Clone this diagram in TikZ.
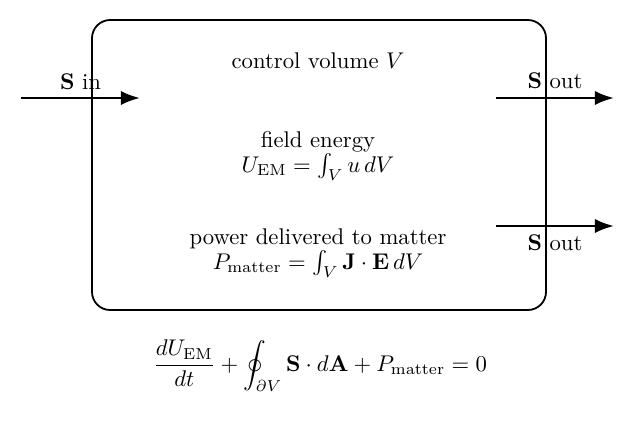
\documentclass[tikz,border=0pt]{standalone}
\usetikzlibrary{arrows.meta}
\begin{document}
\begin{tikzpicture}[x=0.4405pt,y=-0.4405pt,
  cvbox/.style={draw,thick,rounded corners=8pt},
  flux/.style={very thick,-{Latex}},
  lbl/.style={inner sep=0pt,align=center}]
\useasboundingbox (0,0) rectangle (639,425);
\draw[cvbox] (92,20) rectangle (546,310);
\node[lbl] (cv) at (318,61) {control volume $V$};
\node[lbl,anchor=base] (fe) at (318,172) {field energy\\[-1pt] $U_{\mathrm{EM}}=\int_V u\,dV$};
\node[lbl,anchor=base] (pd) at (318,269) {power delivered to matter\\[-1pt] $P_{\mathrm{matter}}=\int_V \mathbf{J}\cdot\mathbf{E}\,dV$};
\coordinate (a1) at (21,98); \coordinate (b1) at (140,98);
\coordinate (a2) at (496,98); \coordinate (b2) at (614,98);
\coordinate (a3) at (496,226); \coordinate (b3) at (614,226);
\draw[flux] (a1) -- node[above] {$\mathbf{S}$ in} (b1);
\draw[flux] (a2) -- node[above] {$\mathbf{S}$ out} (b2);
\draw[flux] (a3) -- node[below] {$\mathbf{S}$ out} (b3);
\node (eq) at (320,366) {$\displaystyle \frac{dU_{\mathrm{EM}}}{dt}+\oint_{\partial V}\mathbf{S}\cdot d\mathbf{A}+P_{\mathrm{matter}}=0$};
\end{tikzpicture}
\end{document}
